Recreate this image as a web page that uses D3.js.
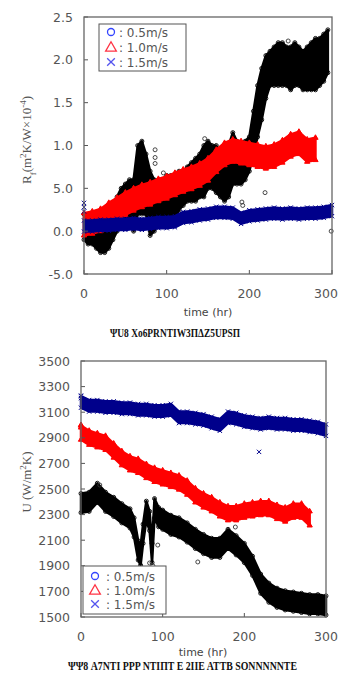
<!DOCTYPE html>
<html>
<head>
<meta charset="utf-8">
<script src="https://cdn.jsdelivr.net/npm/d3@7"></script>
<style>
  body { margin: 0; background: #fff; }
  svg { display: block; }
  .tick-label { font-family: "DejaVu Sans", sans-serif; font-size: 12.5px; fill: #555; }
  .leg-text { font-family: "DejaVu Sans", sans-serif; font-size: 12px; fill: #555; }
  .ax-title { font-family: "Liberation Serif", serif; font-size: 13px; fill: #555; }
  .x-title { font-family: "DejaVu Sans", sans-serif; font-size: 11px; fill: #444; }
  .caption { font-family: "Liberation Serif", serif; font-size: 11.5px; font-weight: bold; fill: #111; }
</style>
</head>
<body>
<script>
// ---------- data ----------
var xTicks = [0, 100, 200, 300];

// panel (a): Rf, plotted on a -5..25 scale, labelled as in the original
var rfTicks = [-5, 0, 5, 10, 15, 20, 25];
var rfTickLabels = ["-5.0", "0.0", "5.0", "1.0", "1.5", "2.0", "2.5"];

var rfT05 = [0,5,10,15,20,25,30,35,40,45,50,55,60,65,70,75,80,85,90,95,100,105,110,115,120,125,130,135,140,145,
             150,155,160,165,170,175,180,185,190,195,200,205,210,215,220,225,230,235,240,245,250,255,260,265,270,275,280,285,290,295];
var rfLo05 = [-1,-1.5,-1.5,-2,-2.5,-2.5,-2,-1,0,1,1,1,0,2,2,2,-0.5,0,1,1,1.5,1.5,1.5,2.5,3,3.5,3.5,3.5,4,4,
              5,5,4.5,4,3.5,4,5.5,5.5,5.5,6,7,9,11,13,15.5,17,17,17,17,17,16.5,17,17,16.5,16.5,16.5,16.5,17,17.5,18.5];
var rfHi05 = [2,1.5,1.5,1,1,1.5,2,3,4,5,5.5,6,6,10,10.5,9,7,6,6,6,6.5,6.5,6.5,7,7,7.5,8,8.5,9,10,
              10.5,10,10,9,9.5,10,11.5,10.5,10,10.5,11,14,17,19,20.5,21,21.5,22,22,21.5,21.5,22,21.5,21,21.5,22,22.5,22.5,23,23.5];
var rfOut05 = [[86,9.5],[86,8.6],[86,7.9],[96,6.8],[146,10.8],[247,22.2],[192,3.0],[191,3.4],[299,0],[219,4.5]];

var rfT10 = [0,10,20,30,40,50,60,70,80,90,100,110,120,130,140,150,160,170,180,190,200,210,220,230,240,250,260,270,280];
var rfMid10 = [0.8,1.0,1.3,2,2.6,3.2,3.7,4.1,4.4,4.8,5.1,5.5,5.9,6.2,6.6,7.2,8.2,9,9.4,9.2,9.0,8.8,8.6,8.8,9.3,10,10.3,9.4,9.6];
var rfSpread10 = 1.3;

var rfT15 = [0,10,20,30,40,50,60,70,80,90,100,110,120,130,140,150,160,170,180,190,200,210,220,230,240,250,260,270,280,290,300];
var rfMid15 = [0.6,0.6,0.7,0.7,0.8,0.8,0.9,0.8,0.9,1.0,1.0,1.1,1.6,1.7,1.9,2.0,2.2,2.2,2.1,1.5,1.8,1.9,2.0,2.1,2.0,2.1,2.0,2.1,2.1,2.2,2.4];
var rfSpread15 = 0.65;
var rfOut15 = [[0,3.3],[0,2.8],[0,2.3]];

// panel (b): overall heat transfer coefficient U
var uTicks = [1500,1700,1900,2100,2300,2500,2700,2900,3100,3300,3500];

var uT05 = [0,10,20,30,40,50,60,65,70,73,76,80,84,87,90,95,100,110,120,130,140,150,160,170,180,190,200,
            210,220,230,240,250,260,270,280,290,300];
var uMid05 = [2390,2400,2470,2400,2360,2310,2270,2200,2020,1980,2150,2330,2250,2000,2350,2280,2260,2220,2200,2160,2110,2070,2040,2040,2110,2060,2000,
              1900,1760,1690,1650,1630,1620,1610,1600,1600,1590];
var uSpread05 = 75;
var uOut05 = [[84,1922],[94,2062],[143,1930],[189,2203],[23,2531],[88,1900]];

var uT10 = [0,10,20,30,40,50,60,70,80,90,100,110,120,130,140,150,160,170,180,190,200,210,220,230,240,250,260,270,280];
var uMid10 = [2940,2900,2880,2860,2800,2740,2700,2680,2640,2610,2590,2570,2550,2510,2450,2410,2380,2340,2310,2310,2330,2340,2350,2350,2320,2300,2330,2330,2270];
var uSpread10 = 55;
var uOut10 = [[0,3000],[0,2980]];

var uT15 = [0,10,20,30,40,50,60,70,80,90,100,110,120,130,140,150,160,170,180,190,200,210,220,230,240,250,260,270,280,290,300];
var uMid15 = [3180,3150,3150,3140,3140,3130,3130,3120,3120,3110,3110,3120,3060,3060,3050,3040,3020,3000,3060,3050,3030,3020,3010,3020,3010,3010,3000,3000,2990,2980,2960];
var uSpread15 = 45;
var uOut15 = [[0,3230],[0,3210],[218,2790]];

var legendLabels = [": 0.5m/s", ": 1.0m/s", ": 1.5m/s"];
var captionA = "ΨU8  Xo6PRNTIW3ΠΔZ5UPSΠ";
var captionB = "ΨΨ8  A7NTI PPP NTIΠT E 2IIE ATTB  SONNNNNTE";

// ---------- drawing ----------
var svg = d3.select("body").append("svg")
    .attr("width", 340)
    .attr("height", 675);

var xSym = d3.symbolTimes || d3.symbolCross;

function drawMarkers(g, pts, x, y, kind, color) {
    if (kind === "circle") {
        g.selectAll(null).data(pts).enter().append("circle")
            .attr("cx", function(d) { return x(d[0]); })
            .attr("cy", function(d) { return y(d[1]); })
            .attr("r", 2)
            .attr("fill", "none")
            .attr("stroke", color)
            .attr("stroke-width", 0.9);
    } else {
        var sym = d3.symbol().type(kind === "tri" ? d3.symbolTriangle : xSym).size(kind === "tri" ? 12 : 14);
        g.selectAll(null).data(pts).enter().append("path")
            .attr("d", sym)
            .attr("transform", function(d) { return "translate(" + x(d[0]) + "," + y(d[1]) + ")"; })
            .attr("fill", kind === "tri" ? color : "none")
            .attr("stroke", color)
            .attr("stroke-width", 1);
    }
}

// a band of densely packed markers: filled area between lo and hi, edge markers for texture
function drawBand(g, x, y, t, lo, hi, color, kind) {
    var area = d3.area()
        .x(function(d, i) { return x(t[i]); })
        .y0(function(d, i) { return y(lo[i]); })
        .y1(function(d, i) { return y(hi[i]); });
    g.append("path")
        .datum(t)
        .attr("d", area)
        .attr("fill", color)
        .attr("stroke", color)
        .attr("stroke-width", 2.5)
        .attr("stroke-linejoin", "round");

    var pts = [];
    t.forEach(function(tt, i) {
        pts.push([tt, lo[i]], [tt, hi[i]]);
    });
    drawMarkers(g, pts, x, y, kind, color);
}

function spreadArrays(mid, s) {
    return [mid.map(function(v) { return v - s; }), mid.map(function(v) { return v + s; })];
}

function drawLegend(g, x0, y0, w, h, rows) {
    g.append("rect")
        .attr("x", x0).attr("y", y0).attr("width", w).attr("height", h)
        .attr("fill", "#fff").attr("stroke", "#555").attr("stroke-width", 1);
    var kinds = ["circle", "tri", "x"];
    var colors = ["#3344ff", "#ff3344", "#5555ee"];
    kinds.forEach(function(k, i) {
        var yy = rows.y[i];
        if (k === "circle") {
            g.append("circle").attr("cx", rows.symX).attr("cy", yy).attr("r", 3.5)
                .attr("fill", "none").attr("stroke", colors[i]).attr("stroke-width", 1.3);
        } else {
            var sym = d3.symbol().type(k === "tri" ? d3.symbolTriangle : xSym).size(k === "tri" ? 50 : 40);
            g.append("path").attr("d", sym)
                .attr("transform", "translate(" + rows.symX + "," + (yy + (k === "tri" ? 1 : 0)) + ")")
                .attr("fill", "none").attr("stroke", colors[i]).attr("stroke-width", 1.3);
        }
        g.append("text").attr("class", "leg-text")
            .attr("x", rows.textX).attr("y", yy + 4.5)
            .text(legendLabels[i]);
    });
}

function drawFrame(g, x, y, box, yTicks, yLabels, xLabelY) {
    // inward tick marks
    yTicks.forEach(function(v) {
        g.append("line").attr("x1", box.l).attr("x2", box.l + 4)
            .attr("y1", y(v)).attr("y2", y(v)).attr("stroke", "#555");
    });
    xTicks.forEach(function(v) {
        g.append("line").attr("x1", x(v)).attr("x2", x(v))
            .attr("y1", box.b).attr("y2", box.b - 4).attr("stroke", "#555");
    });
    g.append("rect")
        .attr("x", box.l).attr("y", box.t)
        .attr("width", box.r - box.l).attr("height", box.b - box.t)
        .attr("fill", "none").attr("stroke", "#666").attr("stroke-width", 1.3);

    g.selectAll(null).data(yTicks).enter().append("text")
        .attr("class", "tick-label")
        .attr("x", box.l - 11)
        .attr("y", function(d) { return y(d) + 4.5; })
        .attr("text-anchor", "end")
        .text(function(d, i) { return yLabels[i]; });
    g.selectAll(null).data(xTicks).enter().append("text")
        .attr("class", "tick-label")
        .attr("x", function(d) { return Math.min(x(d), 326); })
        .attr("y", xLabelY)
        .attr("text-anchor", "middle")
        .text(function(d) { return d; });
}

// ---------- panel (a) ----------
var boxA = {l: 84, r: 332, t: 17, b: 274};
var xA = d3.scaleLinear().domain([0, 300]).range([boxA.l, boxA.r]);
var yA = d3.scaleLinear().domain([-5, 25]).range([boxA.b, boxA.t]);
var gA = svg.append("g");
var plotA = gA.append("g");

drawBand(plotA, xA, yA, rfT05, rfLo05, rfHi05, "#000", "circle");
drawMarkers(plotA, rfOut05, xA, yA, "circle", "#333");
var s10 = spreadArrays(rfMid10, rfSpread10);
drawBand(plotA, xA, yA, rfT10, s10[0], s10[1], "#ff0000", "tri");
var s15 = spreadArrays(rfMid15, rfSpread15);
drawBand(plotA, xA, yA, rfT15, s15[0], s15[1], "#00008b", "x");
drawMarkers(plotA, rfOut15, xA, yA, "x", "#00008b");

drawFrame(gA, xA, yA, boxA, rfTicks, rfTickLabels, 298);
drawLegend(gA, 99, 24, 87, 47, {symX: 111, textX: 119, y: [32, 47, 62]});

gA.append("text").attr("class", "x-title")
    .attr("x", 208).attr("y", 316).attr("text-anchor", "middle")
    .text("time (hr)");

var tA = gA.append("text").attr("class", "ax-title")
    .attr("transform", "translate(31,140) rotate(-90)")
    .attr("text-anchor", "middle");
tA.append("tspan").text("R");
tA.append("tspan").attr("baseline-shift", "sub").attr("font-size", "9px").text("f");
tA.append("tspan").text("(m");
tA.append("tspan").attr("baseline-shift", "super").attr("font-size", "9px").text("2");
tA.append("tspan").text("K/W×10");
tA.append("tspan").attr("baseline-shift", "super").attr("font-size", "9px").text("-4");
tA.append("tspan").text(")");

gA.append("text").attr("class", "caption")
    .attr("x", 110).attr("y", 337)
    .attr("textLength", 130).attr("lengthAdjust", "spacingAndGlyphs")
    .text(captionA);

// ---------- panel (b) ----------
var boxB = {l: 81, r: 326, t: 361, b: 617};
var xB = d3.scaleLinear().domain([0, 300]).range([boxB.l, boxB.r]);
var yB = d3.scaleLinear().domain([1500, 3500]).range([boxB.b, boxB.t]);
var gB = svg.append("g");
var plotB = gB.append("g");

var b05 = spreadArrays(uMid05, uSpread05);
drawBand(plotB, xB, yB, uT05, b05[0], b05[1], "#000", "circle");
drawMarkers(plotB, uOut05, xB, yB, "circle", "#333");
var b10 = spreadArrays(uMid10, uSpread10);
drawBand(plotB, xB, yB, uT10, b10[0], b10[1], "#ff0000", "tri");
drawMarkers(plotB, uOut10, xB, yB, "tri", "#ff0000");
var b15 = spreadArrays(uMid15, uSpread15);
drawBand(plotB, xB, yB, uT15, b15[0], b15[1], "#00008b", "x");
drawMarkers(plotB, uOut15, xB, yB, "x", "#00008b");

drawFrame(gB, xB, yB, boxB, uTicks, uTicks, 641);
drawLegend(gB, 83, 566, 83, 48, {symX: 95, textX: 106, y: [576, 590, 604]});

gB.append("text").attr("class", "x-title")
    .attr("x", 203).attr("y", 656).attr("text-anchor", "middle")
    .text("time (hr)");

var tB = gB.append("text").attr("class", "ax-title")
    .attr("transform", "translate(31,482) rotate(-90)")
    .attr("text-anchor", "middle");
tB.append("tspan").text("U (W/m");
tB.append("tspan").attr("baseline-shift", "super").attr("font-size", "9px").text("2");
tB.append("tspan").text("K)");

gB.append("text").attr("class", "caption")
    .attr("x", 68).attr("y", 670)
    .attr("textLength", 229).attr("lengthAdjust", "spacingAndGlyphs")
    .text(captionB);
</script>
</body>
</html>
